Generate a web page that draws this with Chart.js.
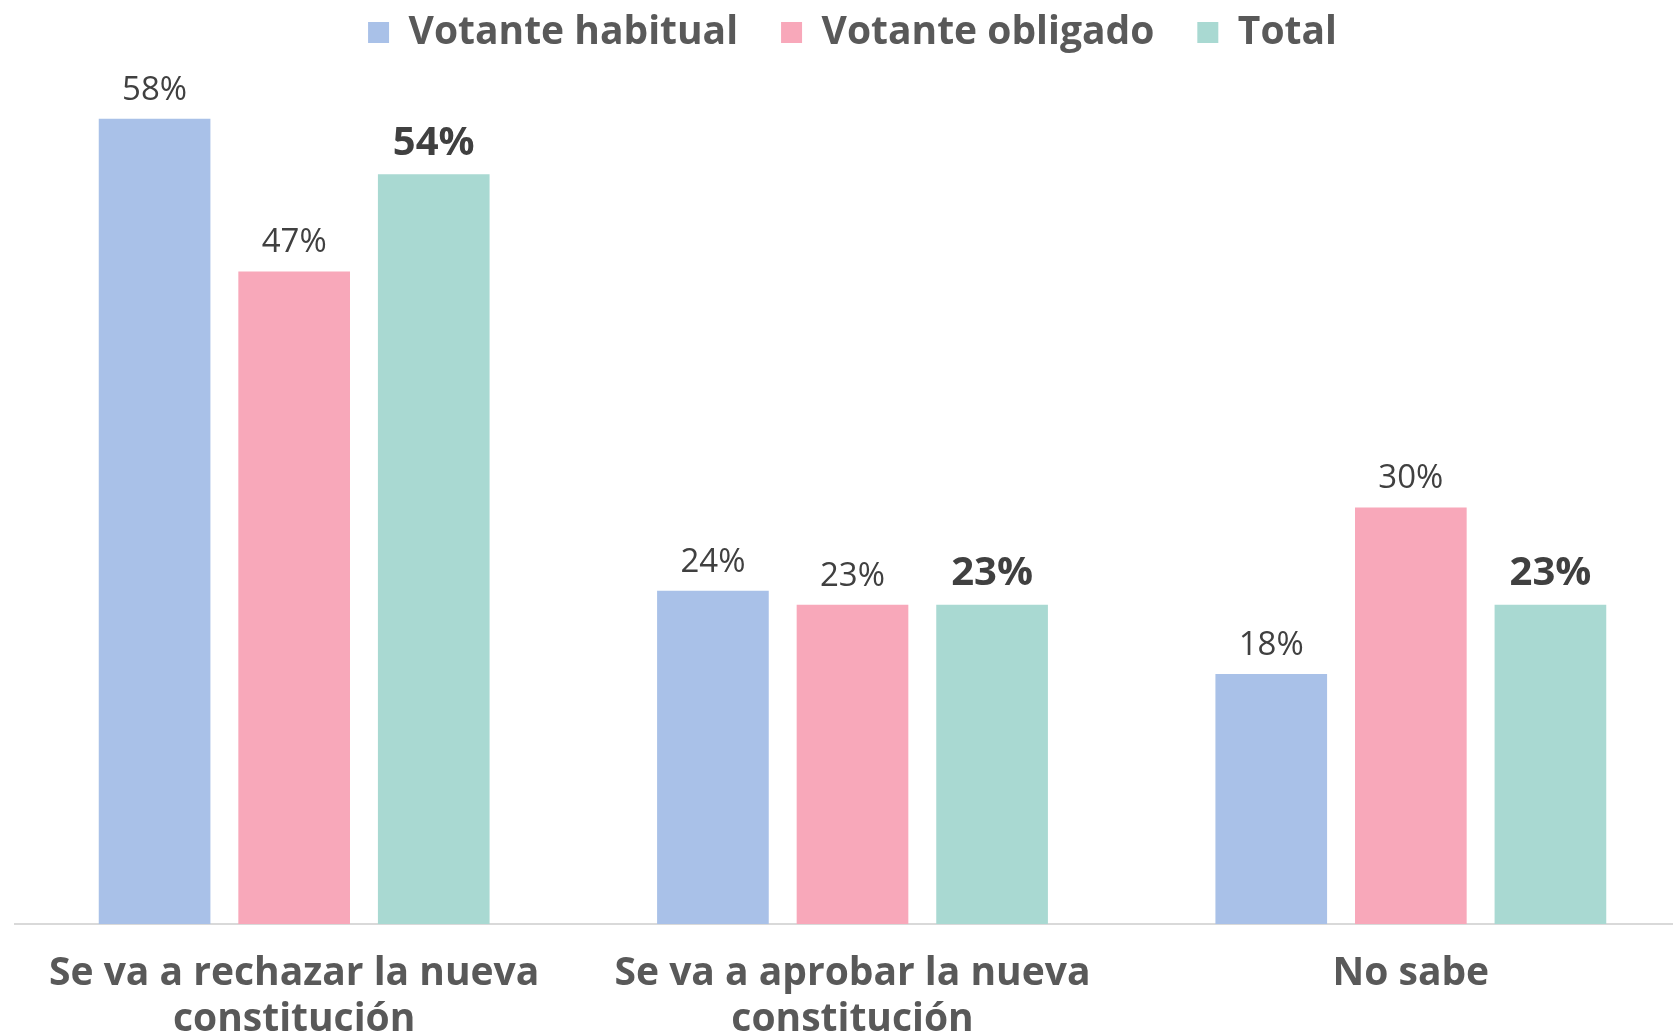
<!DOCTYPE html>
<html>
<head>
<meta charset="utf-8">
<script src="https://cdn.jsdelivr.net/npm/chart.js@4.4.1/dist/chart.umd.min.js"></script>
<style>
    html, body { margin: 0; padding: 0; background: #fff; overflow: hidden; }
    #wrap { width: 1690px; height: 1070px; }
</style>
</head>
<body>
<div id="wrap"><canvas id="votoChart"></canvas></div>
<script>
// ── data ──
const categories = [
    ['Se va a rechazar la nueva', 'constitución'],
    ['Se va a aprobar la nueva', 'constitución'],
    'No sabe'
];
const habitual = [58, 24, 18];
const obligado = [47, 23, 30];
const total    = [54, 23, 23];

const FONT = "'Open Sans', sans-serif";

// ── ajustar el alto de la leyenda (padding grande sólo para separar items) ──
const legendGap = {
    id: 'legendGap',
    beforeInit(chart) {
        const origFit = chart.legend.fit;
        chart.legend.fit = function () {
            origFit.call(this);
            this.height += 29;
        };
    }
};

// ── etiquetas de valor sobre cada barra ──
const valueLabels = {
    id: 'valueLabels',
    afterDatasetsDraw(chart) {
        const ctx = chart.ctx;
        ctx.save();
        ctx.textAlign = 'center';
        ctx.textBaseline = 'bottom';
        chart.data.datasets.forEach((ds, i) => {
            const meta = chart.getDatasetMeta(i);
            const bold = ds.label === 'Total';
            ctx.font = bold ? `bold 40px ${FONT}` : `33px ${FONT}`;
            ctx.fillStyle = '#404040';
            meta.data.forEach((bar, j) => {
                ctx.fillText(ds.data[j] + '%', bar.x, bar.y - (bold ? 11 : 12));
            });
        });
        ctx.restore();
    }
};

new Chart(document.getElementById('votoChart'), {
    type: 'bar',
    data: {
        labels: categories,
        datasets: [
            { label: 'Votante habitual', data: habitual, backgroundColor: '#A9C1E8' },
            { label: 'Votante obligado', data: obligado, backgroundColor: '#F8A8BA' },
            { label: 'Total',            data: total,    backgroundColor: '#A9D9D2' }
        ]
    },
    options: {
        responsive: true,
        maintainAspectRatio: false,
        animation: false,
        datasets: {
            bar: { categoryPercentage: 0.75, barPercentage: 0.8 }
        },
        layout: { padding: { left: 15, right: 0, top: -30, bottom: 0 } },
        plugins: {
            legend: {
                position: 'top',
                labels: {
                    boxWidth: 21,
                    boxHeight: 21,
                    padding: 43,
                    color: '#595959',
                    font: { family: FONT, size: 39, weight: 'bold' }
                }
            },
            tooltip: { enabled: false }
        },
        scales: {
            x: {
                grid: { display: false, drawTicks: false },
                border: { color: '#D9D9D9', width: 2 },
                ticks: {
                    padding: 27,
                    maxRotation: 0,
                    color: '#595959',
                    font: { family: FONT, size: 39, weight: 'bold', lineHeight: 1.18 }
                }
            },
            y: {
                display: false,
                min: 0,
                max: 60
            }
        }
    },
    plugins: [legendGap, valueLabels]
});
</script>
</body>
</html>
